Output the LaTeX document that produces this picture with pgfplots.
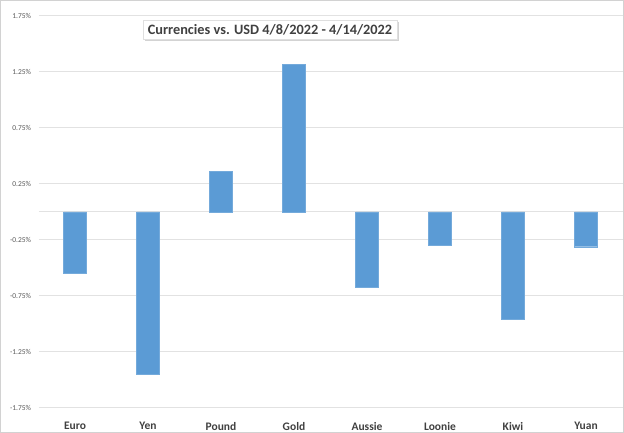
\documentclass[border=0pt]{standalone}
\usepackage{fontspec}
\setmainfont{Carlito}
\usepackage{pgfplots}
\pgfplotsset{compat=1.18}
\usetikzlibrary{shadows}
\definecolor{barblue}{HTML}{5B9BD5}
\definecolor{gridgray}{HTML}{E2E2E2}
\definecolor{txtgray}{HTML}{595959}
\definecolor{lblgray}{HTML}{404040}
\begin{document}
\begin{tikzpicture}[x=1pt,y=1pt]
\path[use as bounding box] (0,0) rectangle (624,433);
\draw[gray!35, line width=0.8pt] (0.4,0.4) rectangle (623.6,432.6);
\begin{axis}[
  at={(38.5pt,25pt)}, anchor=south west,
  scale only axis, width=584pt, height=392pt,
  xmin=-0.5, xmax=7.5, ymin=-1.75, ymax=1.75,
  axis line style={draw=none},
  ybar, bar width=23pt,
  xtick={0,1,2,3,4,5,6,7},
  xticklabels={Euro,Yen,Pound,Gold,Aussie,Loonie,Kiwi,Yuan},
  ytick={-1.75,-1.25,-0.75,-0.25,0.25,0.75,1.25,1.75},
  yticklabels={-1.75\%,-1.25\%,-0.75\%,-0.25\%,0.25\%,0.75\%,1.25\%,1.75\%},
  extra y ticks={0}, extra y tick labels={},
  extra y tick style={grid=major},
  ymajorgrids, grid style={gridgray, line width=1pt},
  major tick length=0pt,
  /pgf/number format/assume math mode=true,
  x tick label style={font=\fontsize{11.5}{13}\selectfont\bfseries, text=lblgray, yshift=-10.5pt},
  y tick label style={font=\fontsize{7.5}{9}\selectfont, text=txtgray, xshift=-4pt},
]
\addplot[fill=barblue, draw=barblue!85!white, line width=0.4pt] coordinates {
  (0,-0.55) (1,-1.45) (2,0.36) (3,1.32) (4,-0.67) (5,-0.30) (6,-0.96) (7,-0.31)};
\end{axis}
\node[draw=gray!25, fill=white, minimum width=254pt, minimum height=19pt, inner sep=2pt,
  drop shadow={shadow xshift=1.5pt, shadow yshift=-2pt, opacity=0.35, fill=gray},
  font=\fontsize{14.3}{16}\selectfont\bfseries, text=lblgray] at (270,403.5)
  {Currencies vs. USD 4/8/2022 - 4/14/2022};
\end{tikzpicture}
\end{document}
